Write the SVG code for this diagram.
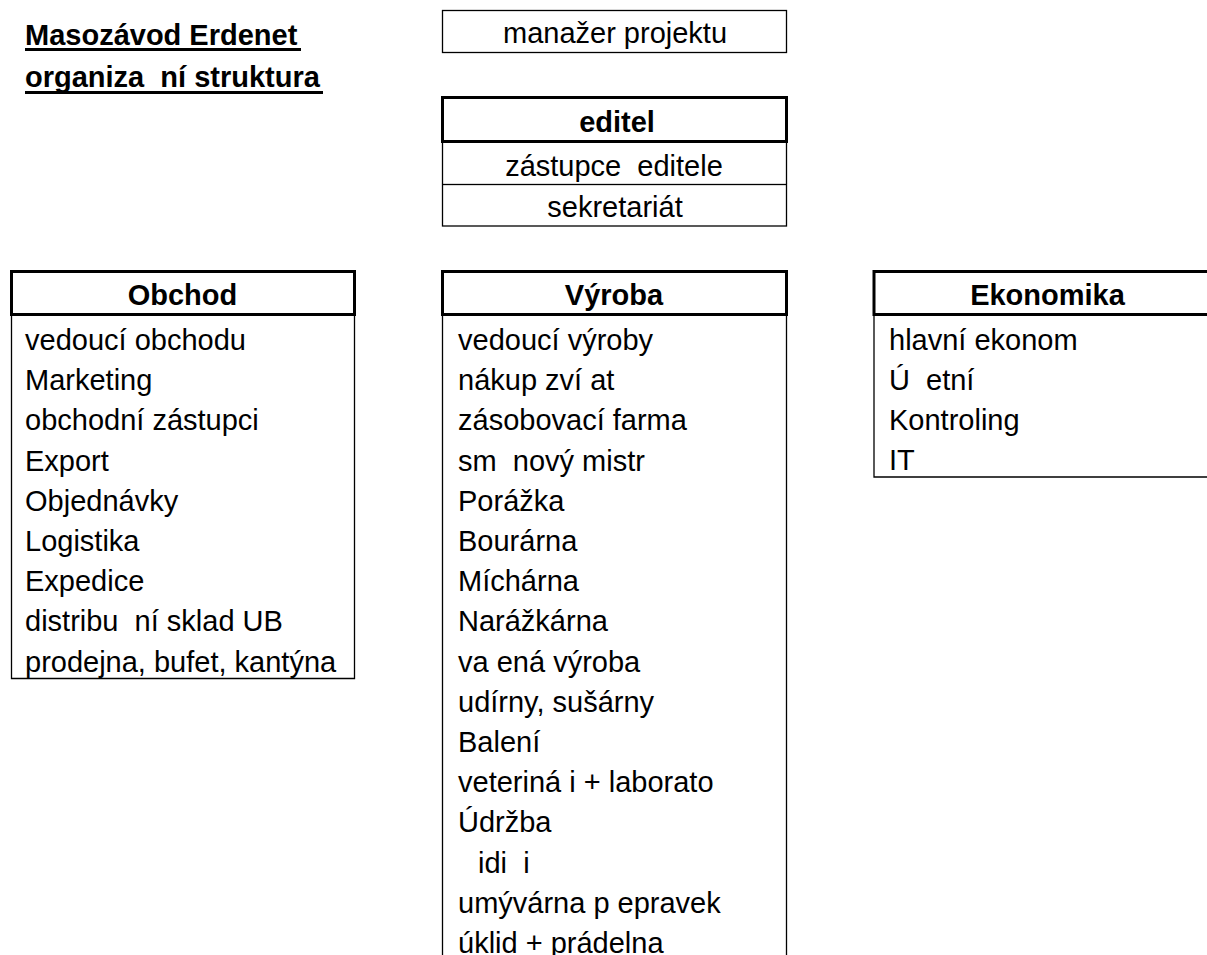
<svg xmlns="http://www.w3.org/2000/svg" width="1207" height="955" viewBox="0 0 1207 955">
<style>
text{font-family:"Liberation Sans",Arial,sans-serif;font-size:29px;fill:#000;white-space:pre}
.b{font-weight:bold}
.c{text-anchor:middle}
.thin{fill:none;stroke:#000;stroke-width:1.3}
.thick{fill:none;stroke:#000;stroke-width:3}
</style>
<rect width="1207" height="955" fill="#fff"/>
<g id="title">
<text class="b" x="25" y="45">Masozávod Erdenet</text>
<rect x="25" y="48" width="276" height="3" fill="#000"/>
<text class="b" x="25" y="87" xml:space="preserve">organiza  ní struktura</text>
<rect x="25" y="91" width="298" height="3" fill="#000"/>
</g>
<g id="manazer">
<rect class="thin" x="442.5" y="10.5" width="344" height="42"/>
<text class="c" x="615" y="43">manažer projektu</text>
</g>
<g id="reditel">
<rect class="thick" x="442.5" y="97.5" width="344" height="44"/>
<text class="b c" x="617" y="132">editel</text>
</g>
<g id="zastupce">
<line class="thin" x1="442.5" y1="143" x2="442.5" y2="184"/>
<line class="thin" x1="786.5" y1="143" x2="786.5" y2="184"/>
<text class="c" x="614" y="176" xml:space="preserve">zástupce  editele</text>
</g>
<g id="sekretariat">
<rect class="thin" x="442.5" y="184.5" width="344" height="41.5"/>
<text class="c" x="615" y="217">sekretariát</text>
</g>
<g id="obchod">
<rect class="thick" x="11.5" y="271.5" width="343" height="43"/>
<text class="b c" x="182.5" y="305">Obchod</text>
<path class="thin" d="M11.5 316V678.5H354.5V316"/>
<text x="25" y="350">vedoucí obchodu</text>
<text x="25" y="390.2">Marketing</text>
<text x="25" y="430.4">obchodní zástupci</text>
<text x="25" y="470.6">Export</text>
<text x="25" y="510.8">Objednávky</text>
<text x="25" y="551">Logistika</text>
<text x="25" y="591.2">Expedice</text>
<text x="25" y="631.4" xml:space="preserve">distribu  ní sklad UB</text>
<text x="25" y="671.6">prodejna, bufet, kantýna</text>
</g>
<g id="vyroba">
<rect class="thick" x="442.5" y="271.5" width="344" height="43"/>
<text class="b c" x="614" y="305">Výroba</text>
<line class="thin" x1="442.5" y1="316" x2="442.5" y2="955"/>
<line class="thin" x1="786.5" y1="316" x2="786.5" y2="955"/>
<text x="458" y="350">vedoucí výroby</text>
<text x="458" y="390.2">nákup zví at</text>
<text x="458" y="430.4">zásobovací farma</text>
<text x="458" y="470.6" xml:space="preserve">sm  nový mistr</text>
<text x="458" y="510.8">Porážka</text>
<text x="458" y="551">Bourárna</text>
<text x="458" y="591.2">Míchárna</text>
<text x="458" y="631.4">Narážkárna</text>
<text x="458" y="671.6">va ená výroba</text>
<text x="458" y="711.8">udírny, sušárny</text>
<text x="458" y="752">Balení</text>
<text x="458" y="792.2">veteriná i + laborato</text>
<text x="458" y="832.4">Údržba</text>
<text x="478" y="872.6" xml:space="preserve">idi  i</text>
<text x="458" y="912.8">umývárna p epravek</text>
<text x="458" y="953">úklid + prádelna</text>
</g>
<g id="ekonomika">
<rect class="thick" x="874" y="271.5" width="348" height="43"/>
<text class="b c" x="1047.5" y="305">Ekonomika</text>
<path class="thin" d="M874 316V477H1207"/>
<text x="889" y="350">hlavní ekonom</text>
<text x="889" y="390.2" xml:space="preserve">Ú  etní</text>
<text x="889" y="430.4">Kontroling</text>
<text x="889" y="470">IT</text>
</g>
<g id="connectors"></g>
</svg>
